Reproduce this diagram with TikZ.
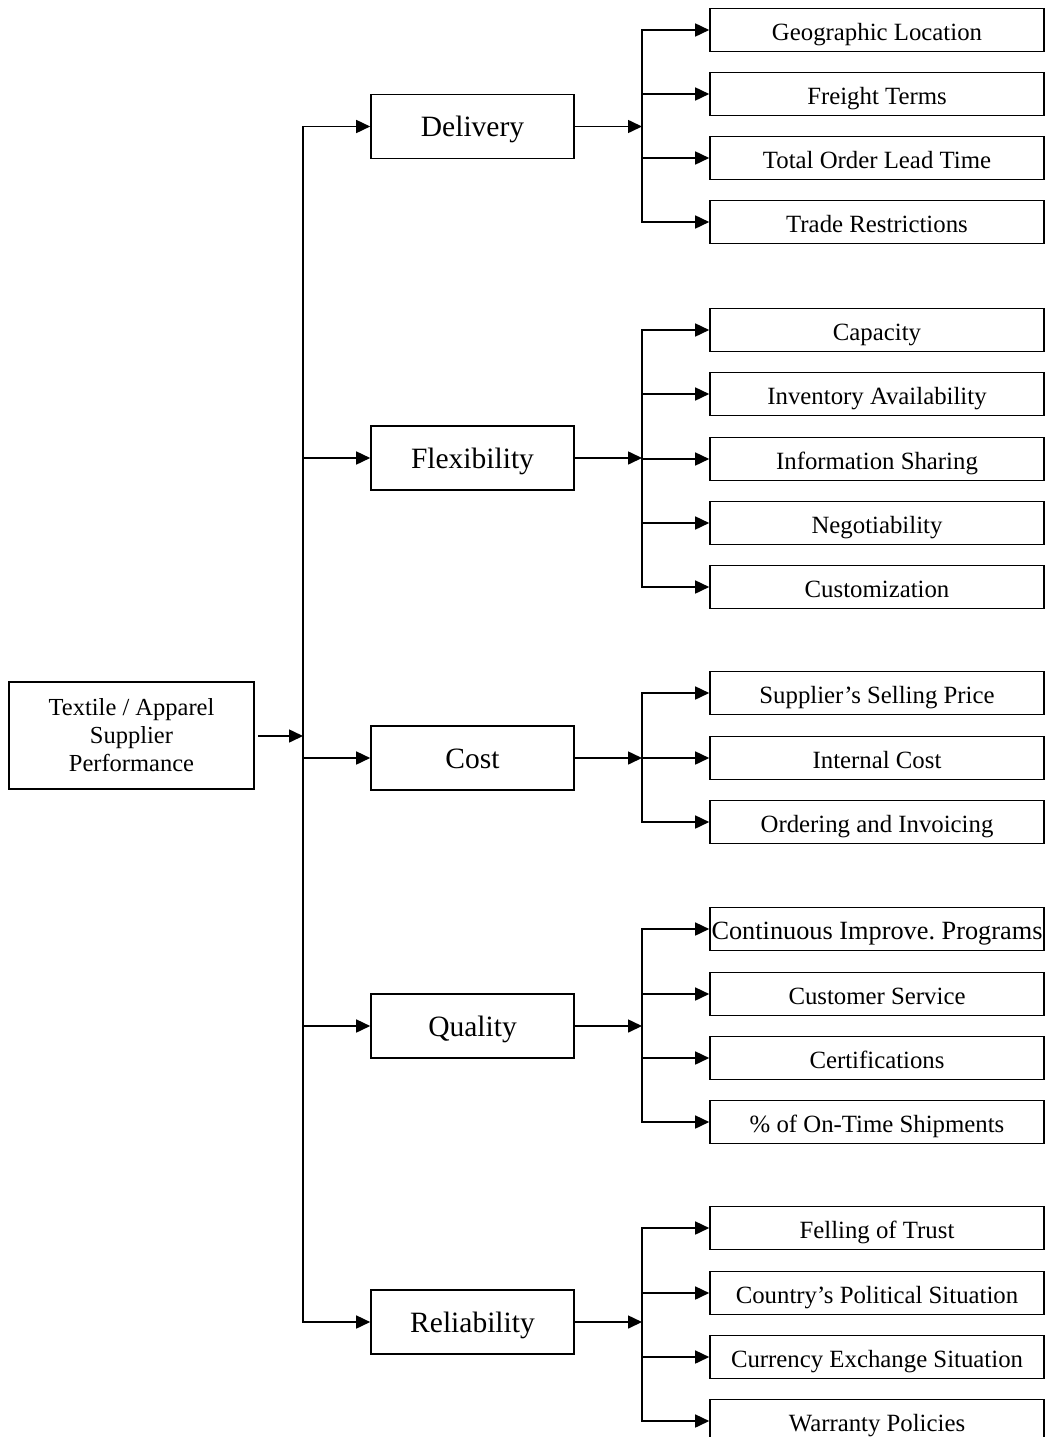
\documentclass[tikz,border=0pt]{standalone}
\usepackage{fontspec}
\setmainfont{Liberation Serif}
\usetikzlibrary{arrows.meta}
\frenchspacing
\begin{document}
\begin{tikzpicture}[x=1pt,y=-1pt,
  line width=1.6pt,
  arr/.style={-{Triangle[length=14pt,width=13pt]}},
  vline/.style={line cap=rect},
  leaf/.style={draw,line width=1.6pt,minimum width=334pt,minimum height=43pt,inner sep=0pt,text height=21pt,text depth=0pt,font=\fontsize{24.8}{28}\selectfont},
  cat/.style={draw,line width=1.6pt,minimum width=203pt,minimum height=64pt,inner sep=0pt,text height=20pt,text depth=0pt,font=\fontsize{29.5}{34}\selectfont},
  root/.style={draw,line width=1.6pt,minimum width=245pt,minimum height=107pt,inner sep=0pt,align=center,font=\fontsize{24.5}{28}\selectfont}]
\useasboundingbox (0,0) rectangle (1045,1437);
\clip (0,0) rectangle (1045,1437);
% root
\node[root] (root) at (131.5,735.5) {Textile / Apparel\\Supplier\\Performance};
\coordinate (rs) at (258,736);
\coordinate (rt) at (303,736);
\draw[arr] (rs) -- (rt);
% categories
\node[cat] (D) at (472.5,126.5) {Delivery};
\node[cat] (F) at (472.5,458) {Flexibility};
\node[cat] (C) at (472.5,758) {Cost};
\node[cat] (Q) at (472.5,1026) {Quality};
\node[cat] (R) at (472.5,1322) {Reliability};
\foreach \n in {D,F,C,Q,R}{
  \coordinate (t\n) at (303,0 |- \n.west);
  \draw[arr] (t\n) -- (\n.west);
  \coordinate (j\n) at (642,0 |- \n.east);
  \draw[arr] (\n.east) -- (j\n);
}
\draw[vline] (tD) -- (tR);
% leaves: Delivery
\foreach \y/\t [count=\i] in {30/Geographic Location,94/Freight Terms,158/Total Order Lead Time,222/Trade Restrictions}{
  \node[leaf] (D\i) at (877,\y) {\t};
  \coordinate (jD\i) at (642,\y);
  \draw[arr] (jD\i) -- (D\i.west);
}
\draw[vline] (jD1) -- (jD4);
% Flexibility
\foreach \y/\t [count=\i] in {330/Capacity,394/Inventory Availability,459/Information Sharing,523/Negotiability,587/Customization}{
  \node[leaf] (F\i) at (877,\y) {\t};
  \coordinate (jF\i) at (642,\y);
  \draw[arr] (jF\i) -- (F\i.west);
}
\draw[vline] (jF1) -- (jF5);
% Cost
\foreach \y/\t [count=\i] in {693/Supplier’s Selling Price,758/Internal Cost,822/Ordering and Invoicing}{
  \node[leaf] (C\i) at (877,\y) {\t};
  \coordinate (jC\i) at (642,\y);
  \draw[arr] (jC\i) -- (C\i.west);
}
\draw[vline] (jC1) -- (jC3);
% Quality
\foreach \y/\t [count=\i] in {929/{\fontsize{26.3}{28}\selectfont Continuous Improve. Programs},994/Customer Service,1058/Certifications,1122/\% of On-Time Shipments}{
  \node[leaf] (Q\i) at (877,\y) {\t};
  \coordinate (jQ\i) at (642,\y);
  \draw[arr] (jQ\i) -- (Q\i.west);
}
\draw[vline] (jQ1) -- (jQ4);
% Reliability
\foreach \y/\t [count=\i] in {1228/Felling of Trust,1293/Country’s Political Situation,1357/Currency Exchange Situation,1421/Warranty Policies}{
  \node[leaf] (R\i) at (877,\y) {\t};
  \coordinate (jR\i) at (642,\y);
  \draw[arr] (jR\i) -- (R\i.west);
}
\draw[vline] (jR1) -- (jR4);
\end{tikzpicture}
\end{document}
